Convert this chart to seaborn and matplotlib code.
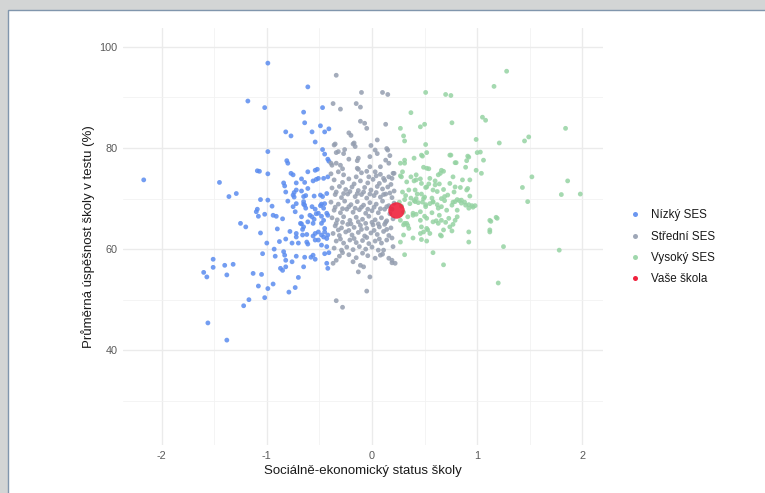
import matplotlib
matplotlib.use('Agg')
import matplotlib.pyplot as plt
import seaborn as sns
import pandas as pd
from matplotlib.lines import Line2D
from matplotlib.patches import Rectangle

# Nízký SES (socio-ekonomický index, úspěšnost %)
low_ses = [-0.99, -1.18, -1.02, -0.99, -2.17, -1.09, -1.07, -0.99, -1.45, -1.36,
           -1.29, -1.06, -0.99, -1.09, -1.10, -1.02, -1.08, -1.25, -1.20, -1.06,
           -1.00, -1.04, -1.51, -1.51, -1.40, -1.32, -1.60, -1.57, -1.38, -1.13,
           -1.05, -1.08, -0.99, -1.02, -1.17, -1.22, -1.56, -1.38,
           -0.61, -0.65, -0.47, -0.64, -0.49, -0.41, -0.45, -0.82, -0.77, -0.57,
           -0.54, -0.47, -0.45, -0.42, -0.41, -0.81, -0.80, -0.77, -0.75, -0.61,
           -0.52, -0.42, -0.67, -0.64, -0.84, -0.83, -0.72, -0.56, -0.51, -0.82,
           -0.74, -0.67, -0.63, -0.74, -0.55, -0.47, -0.75, -0.65, -0.57, -0.49,
           -0.45, -0.94, -0.91, -0.65, -0.63, -0.54, -0.46,
           -0.67, -0.65, -0.66, -0.57, -0.55, -0.56, -0.48, -0.46, -0.51, -0.43,
           -0.82, -0.76, -0.70, -0.66, -0.62, -0.56, -0.54, -0.48, -0.45, -0.43,
           -0.51, -0.61, -0.72, -0.92, -0.83, -0.82, -0.76, -0.72, -0.64, -0.58,
           -0.54, -0.45, -0.41, -0.43, -0.42, -0.87, -0.85, -0.82, -0.70, -0.94,
           -0.79, -0.73, -0.54, -0.53, -0.46, -0.72, -0.61, -0.75, -0.65, -0.49,
           -0.43, -0.72, -0.64, -0.48, -0.73, -0.67, -0.59, -0.53, -0.42, -0.68,
           -0.61, -0.48, -0.45, -0.72, -0.51, -0.46, -0.42, -0.62, -0.54, -0.48,
           -0.43, -0.56, -0.65, -0.95, -0.90, -0.88, -0.85, -0.80, -0.78, -0.93,
           -0.84]
low_score = [96.8, 89.3, 88.0, 79.3, 73.7, 75.5, 75.4, 74.9, 73.2, 70.4,
             71.0, 69.8, 69.7, 67.9, 67.4, 66.9, 66.5, 65.1, 64.4, 63.2,
             61.2, 59.1, 58.0, 56.4, 56.8, 57.0, 55.4, 54.5, 54.9, 55.2,
             55.0, 52.7, 52.2, 50.4, 50.0, 48.8, 45.4, 42.0,
             92.1, 87.1, 88.0, 85.0, 84.4, 83.8, 83.2, 83.2, 82.4, 83.2,
             81.2, 79.7, 78.8, 77.8, 77.4, 77.5, 77.0, 75.0, 74.7, 75.3,
             75.8, 74.3, 73.9, 73.2, 73.1, 72.5, 73.1, 73.5, 74.0, 71.3,
             71.2, 71.5, 70.6, 70.3, 70.5, 70.4, 68.4, 68.9, 68.4, 68.6,
             69.0, 66.7, 66.5, 69.4, 68.1, 67.9, 68.1,
             65.0, 64.4, 63.9, 66.4, 65.9, 65.1, 66.5, 65.7, 67.1, 67.1,
             62.0, 61.2, 61.2, 62.8, 62.9, 62.6, 63.1, 62.8, 63.4, 62.1,
             61.8, 61.0, 62.4, 58.6, 58.8, 57.8, 57.5, 58.6, 58.4, 58.4,
             58.0, 59.1, 59.3, 57.2, 56.2, 56.2, 55.8, 56.5, 54.4, 53.1,
             51.5, 52.4, 75.6, 73.8, 74.0, 71.7, 72.0, 70.7, 70.4, 70.7,
             71.0, 69.0, 68.7, 68.9, 67.4, 66.4, 66.7, 67.0, 66.7, 65.1,
             65.4, 65.1, 64.1, 63.1, 63.4, 62.4, 62.8, 61.4, 61.8, 60.8,
             60.5, 58.8, 56.5, 68.5, 64.0, 61.5, 66.0, 69.5, 63.5, 60.0,
             59.5]

# Střední SES
mid_ses = [-0.34, -0.10, 0.10, 0.15, -0.37, -0.30, -0.15, -0.11, -0.11, -0.07,
           -0.05, 0.13, -0.22, -0.20, -0.17, -0.16, 0.05, -0.01, 0.03, -0.36,
           -0.34, -0.26, -0.27, -0.14, 0.15, 0.17, 0.13, 0.16, -0.38, -0.34,
           -0.28, -0.32, -0.39, -0.14, -0.10, -0.05, -0.03, 0.08, 0.11, 0.19,
           0.21, -0.29, -0.34, -0.37, -0.18, -0.11, -0.13, -0.08, -0.02, -0.05,
           -0.34, -0.28, 0.08, 0.16, 0.19, 0.20, 0.11, 0.19, 0.22,
           -0.35, -0.18, -0.32, 0.14, 0.05, -0.02, -0.22, -0.13, -0.39, -0.30,
           -0.13, -0.02, 0.03, 0.08, 0.20, -0.27, -0.15, 0.04, 0.16,
           -0.36, -0.28, -0.22, -0.17, -0.11, -0.04, 0.01, 0.07, 0.12, 0.18,
           -0.38, -0.31, -0.25, -0.19, -0.13, -0.07, -0.01, 0.05, 0.10, 0.15, 0.21,
           -0.35, -0.29, -0.23, -0.16, -0.10, -0.05, 0.02, 0.08, 0.13, 0.19,
           -0.39, -0.32, -0.26, -0.20, -0.14, -0.08, -0.02, 0.04, 0.10, 0.16, 0.21,
           -0.36, -0.30, -0.24, -0.18, -0.12, -0.06, 0.00, 0.06, 0.12, 0.17,
           -0.38, -0.33, -0.27, -0.21, -0.15, -0.09, -0.03, 0.03, 0.09, 0.14, 0.20,
           -0.35, -0.29, -0.23, -0.17, -0.11, -0.05, 0.01, 0.07, 0.12, 0.18,
           -0.37, -0.31, -0.25, -0.19, -0.13, -0.07, -0.01, 0.05, 0.11, 0.16,
           -0.34, -0.27, -0.21, -0.15, -0.09, -0.03, 0.03, 0.09, 0.14,
           -0.36, -0.24, -0.18, -0.12, -0.06, 0.00, 0.06,
           -0.31, -0.22, -0.15, -0.04, 0.03,
           -0.34, -0.27, -0.21, -0.14, -0.08, -0.02, 0.04, 0.11, 0.17,
           -0.35, -0.28, -0.22, -0.16, -0.10, -0.04, 0.02, 0.08, 0.14, 0.19,
           -0.34, -0.28, -0.20, -0.13, -0.06, 0.00, 0.06, 0.13,
           -0.32, -0.22, -0.10, 0.02, 0.14,
           -0.30, -0.17, -0.05, 0.07, 0.19,
           -0.28, -0.09, 0.10]
mid_score = [94.4, 91.0, 91.0, 90.6, 88.8, 87.7, 88.8, 88.1, 85.3, 84.9,
             83.9, 84.7, 83.0, 82.5, 81.0, 80.3, 81.6, 80.5, 79.6, 80.6,
             79.1, 79.7, 78.9, 77.5, 79.6, 78.5, 77.6, 77.0, 76.6, 77.0,
             75.9, 75.3, 74.9, 76.0, 75.1, 75.4, 74.3, 74.8, 74.0, 74.0,
             75.0, 59.8, 57.8, 57.2, 57.5, 56.8, 55.5, 56.5, 54.5, 51.7,
             49.8, 48.5, 58.8, 58.2, 57.3, 60.5, 59.8, 57.8, 57.2,
             80.8, 80.8, 79.3, 79.9, 78.9, 78.3, 77.8, 78.0, 77.0, 76.6,
             75.8, 76.3, 75.3, 76.3, 75.0, 74.7, 74.3, 74.5, 74.3,
             73.7, 73.2, 73.9, 72.9, 73.5, 73.1, 73.8, 73.0, 73.6, 72.8,
             72.1, 72.4, 71.8, 72.3, 71.6, 72.2, 71.7, 72.4, 71.9, 72.3, 71.5,
             70.8, 70.2, 70.9, 70.4, 70.8, 70.1, 70.6, 70.3, 70.9, 70.2,
             69.3, 68.9, 69.5, 68.8, 69.4, 68.7, 69.2, 68.9, 69.5, 68.6, 69.1,
             67.7, 67.2, 67.9, 67.3, 67.8, 67.1, 67.6, 67.2, 67.9, 67.0,
             66.2, 65.8, 66.4, 65.7, 66.3, 65.9, 66.5, 65.8, 66.2, 65.6, 66.0,
             64.6, 64.2, 64.9, 64.3, 64.7, 64.1, 64.8, 64.4, 64.9, 64.2,
             63.1, 62.7, 63.4, 62.8, 63.3, 62.6, 63.2, 62.9, 63.5, 62.7,
             61.6, 61.2, 61.8, 61.3, 61.7, 61.1, 61.6, 61.2, 61.8,
             60.2, 60.4, 59.9, 60.5, 60.0, 60.4, 59.8,
             58.6, 58.9, 58.3, 58.7, 58.2,
             71.3, 71.0, 71.4, 71.0, 71.3, 70.9, 71.2, 70.8, 71.1,
             68.3, 68.0, 68.4, 68.1, 68.3, 67.9, 68.3, 68.0, 68.4, 67.9,
             65.1, 65.3, 65.0, 65.4, 65.1, 65.3, 65.0, 65.3,
             63.8, 63.7, 63.9, 63.7, 63.9,
             62.0, 62.1, 62.3, 62.0, 62.2,
             59.3, 59.2, 59.0]

# Vysoký SES
high_ses = [1.28, 1.16, 0.51, 0.70, 0.75, 0.37, 1.05, 1.08, 0.76, 0.46,
            0.50, 1.84, 0.27, 0.30, 0.31, 0.99, 1.21, 1.49, 1.45, 0.51,
            1.00, 1.03, 0.52, 0.48, 0.75, 0.40, 0.31, 0.27, 0.92, 0.90,
            0.80, 0.89, 1.06, 0.49, 0.54, 0.99, 1.04, 0.68, 0.65, 0.77,
            0.29, 0.27, 0.37, 0.42, 0.46, 0.40, 1.52, 1.86, 0.86, 0.93,
            0.60, 0.54, 0.51, 0.64, 0.68, 0.79, 0.91, 0.84, 1.43, 1.80,
            1.98, 0.93, 1.48,
            0.29, 0.32, 0.37, 0.41, 0.36, 0.31, 0.43,
            0.47, 0.50, 0.57, 0.44, 0.51, 0.58, 0.66, 0.72, 0.78, 0.81,
            0.62, 0.85, 0.89, 0.95,
            0.40, 0.48, 0.58, 0.69, 0.77, 0.83, 0.88, 0.92, 0.98, 0.51,
            0.66, 0.76, 0.46, 0.57, 0.64, 0.81, 0.79, 1.18, 1.19, 1.13,
            0.70, 0.61, 0.63, 0.77, 0.50, 0.39, 0.42, 0.34, 0.27, 0.33,
            0.30, 0.34, 0.47, 0.49, 0.53, 0.76, 0.92, 1.12, 0.30, 0.39,
            0.66, 0.47, 0.52, 0.92, 0.27, 1.25, 1.78, 0.58, 0.31, 0.68, 1.20,
            0.74, 0.79, 0.91, 0.31, 0.52, 0.47, 0.66, 0.63, 0.74, 0.90,
            0.96, 0.85, 0.79, 0.69, 0.62, 0.58, 0.52, 0.49, 0.42, 0.35,
            0.33, 0.28, 0.42, 0.47, 0.55, 0.60, 0.41, 0.55, 0.63, 0.71,
            0.81, 0.92, 0.39, 0.46, 0.52, 0.58, 0.66, 0.73, 0.74, 0.68,
            0.52, 0.46, 0.31, 0.35, 0.55, 0.65, 1.12, 1.12,
            0.28, 0.30, 0.26]
high_score = [95.2, 92.2, 91.0, 90.6, 90.4, 87.0, 86.1, 85.5, 85.0, 84.2,
              84.7, 83.9, 83.9, 82.4, 81.4, 81.7, 81.0, 82.2, 81.4, 80.7,
              79.1, 79.2, 79.1, 78.4, 78.6, 78.0, 77.6, 77.0, 78.2, 77.5,
              77.1, 76.2, 77.6, 76.2, 75.9, 75.6, 75.0, 75.4, 75.0, 74.3,
              75.3, 74.5, 74.3, 74.7, 73.9, 73.5, 74.3, 73.5, 73.7, 73.7,
              73.5, 72.9, 72.2, 72.9, 71.8, 72.3, 72.0, 72.2, 72.2, 70.8,
              70.9, 70.5, 69.4,
              71.3, 70.6, 70.1, 69.4, 69.0, 69.8, 70.9,
              70.9, 70.3, 70.1, 69.2, 68.8, 69.4, 70.0, 70.7, 71.3, 69.8,
              68.8, 69.1, 68.7, 68.6,
              69.6, 69.3, 69.3, 69.6, 69.3, 69.6, 69.3, 68.8, 68.6, 68.4,
              68.4, 68.7, 67.4, 67.2, 66.7, 66.4, 65.7, 66.3, 66.1, 65.5,
              65.3, 65.6, 65.1, 64.9, 66.5, 66.7, 66.9, 66.4, 65.7, 65.1,
              64.8, 64.7, 64.4, 63.4, 63.8, 63.6, 63.4, 63.4, 62.8, 62.2,
              62.6, 61.9, 61.6, 61.4, 61.4, 60.5, 59.8, 59.3, 58.9, 56.9, 53.3,
              78.6, 77.1, 78.4, 77.0, 76.0, 78.6, 75.6, 74.7, 73.0, 71.7,
              68.3, 69.7, 69.4, 70.4, 71.4, 71.7, 72.3, 70.0, 70.0, 71.7,
              73.3, 74.3, 73.7, 73.0, 74.0, 72.7, 71.7, 69.0, 68.1, 67.7,
              67.7, 68.1, 67.1, 65.7, 66.1, 65.4, 65.7, 66.1, 64.4, 63.8,
              64.1, 63.1, 65.1, 64.1, 63.1, 62.8, 65.7, 63.8,
              68.5, 67.3, 69.3]

# Vaše škola
school_ses = [0.23]
school_score = [67.7]

group_labels = ['Nízký SES', 'Střední SES', 'Vysoký SES']
palette = {'Nízký SES': '#5b8cef', 'Střední SES': '#949eb0', 'Vysoký SES': '#95d3a3'}
school_color = '#f0213d'

df = pd.concat([
    pd.DataFrame({'ses': low_ses, 'score': low_score, 'group': group_labels[0]}),
    pd.DataFrame({'ses': mid_ses, 'score': mid_score, 'group': group_labels[1]}),
    pd.DataFrame({'ses': high_ses, 'score': high_score, 'group': group_labels[2]}),
], ignore_index=True)
school = pd.DataFrame({'ses': school_ses, 'score': school_score})

sns.set_theme(style='whitegrid')
plt.rcParams['font.family'] = ['Liberation Sans', 'DejaVu Sans']

W, H = 765, 493
fig = plt.figure(figsize=(W / 100, H / 100), dpi=100)
fig.patch.set_facecolor('#d3d5d5')
# bílé okno uvnitř šedého rámu
fig.add_artist(Rectangle((8 / W, -0.01), 1.0, 1 - 10 / H + 0.01, transform=fig.transFigure,
                         facecolor='white', edgecolor='#8196ad', linewidth=1.0, zorder=-10))

ax = fig.add_axes([123 / W, 1 - 445 / H, 480 / W, 417 / H])
ax.set_facecolor('white')

sns.scatterplot(data=df, x='ses', y='score', hue='group', palette=palette,
                s=12, alpha=0.85, linewidth=0, legend=False, ax=ax)
sns.scatterplot(data=school, x='ses', y='score', color=school_color,
                s=140, alpha=0.9, linewidth=0, legend=False, ax=ax)

ax.set_xlim(-2.367, 2.196)
ax.set_ylim(21.25, 103.75)
ax.set_xticks([-2, -1, 0, 1, 2])
ax.set_xticklabels(['-2', '-1', '0', '1', '2'])
ax.set_yticks([40, 60, 80, 100])
ax.set_xticks([-1.5, -0.5, 0.5, 1.5], minor=True)
ax.set_yticks([30, 50, 70, 90], minor=True)
ax.grid(which='major', color='#ebebeb', linewidth=1.0)
ax.grid(which='minor', color='#f2f2f2', linewidth=0.6)
ax.set_axisbelow(True)
for sp in ax.spines.values():
    sp.set_visible(False)
ax.tick_params(which='both', length=0, labelsize=7.8, labelcolor='#5a5a5a', pad=4)

ax.set_xlabel('Sociálně-ekonomický status školy', fontsize=9.5, color='#1a1a1a', labelpad=3)
ax.set_ylabel('Průměrná úspěšnost školy v testu (%)', fontsize=9.5, color='#1a1a1a', labelpad=3)

handles = [Line2D([0], [0], marker='o', linestyle='', markersize=3.6,
                  markerfacecolor=palette[g], markeredgewidth=0, alpha=0.9) for g in group_labels]
handles.append(Line2D([0], [0], marker='o', linestyle='', markersize=3.6,
                      markerfacecolor=school_color, markeredgewidth=0))
fig.legend(handles, group_labels + ['Vaše škola'], loc='center left',
           bbox_to_anchor=(0.8225, 1 - 247.5 / H), frameon=False, fontsize=8.4,
           handlelength=1.0, handletextpad=0.9, labelspacing=0.8,
           borderpad=0, borderaxespad=0, labelcolor='#1a1a1a')

fig.savefig('out.png', dpi=100, facecolor=fig.get_facecolor())
